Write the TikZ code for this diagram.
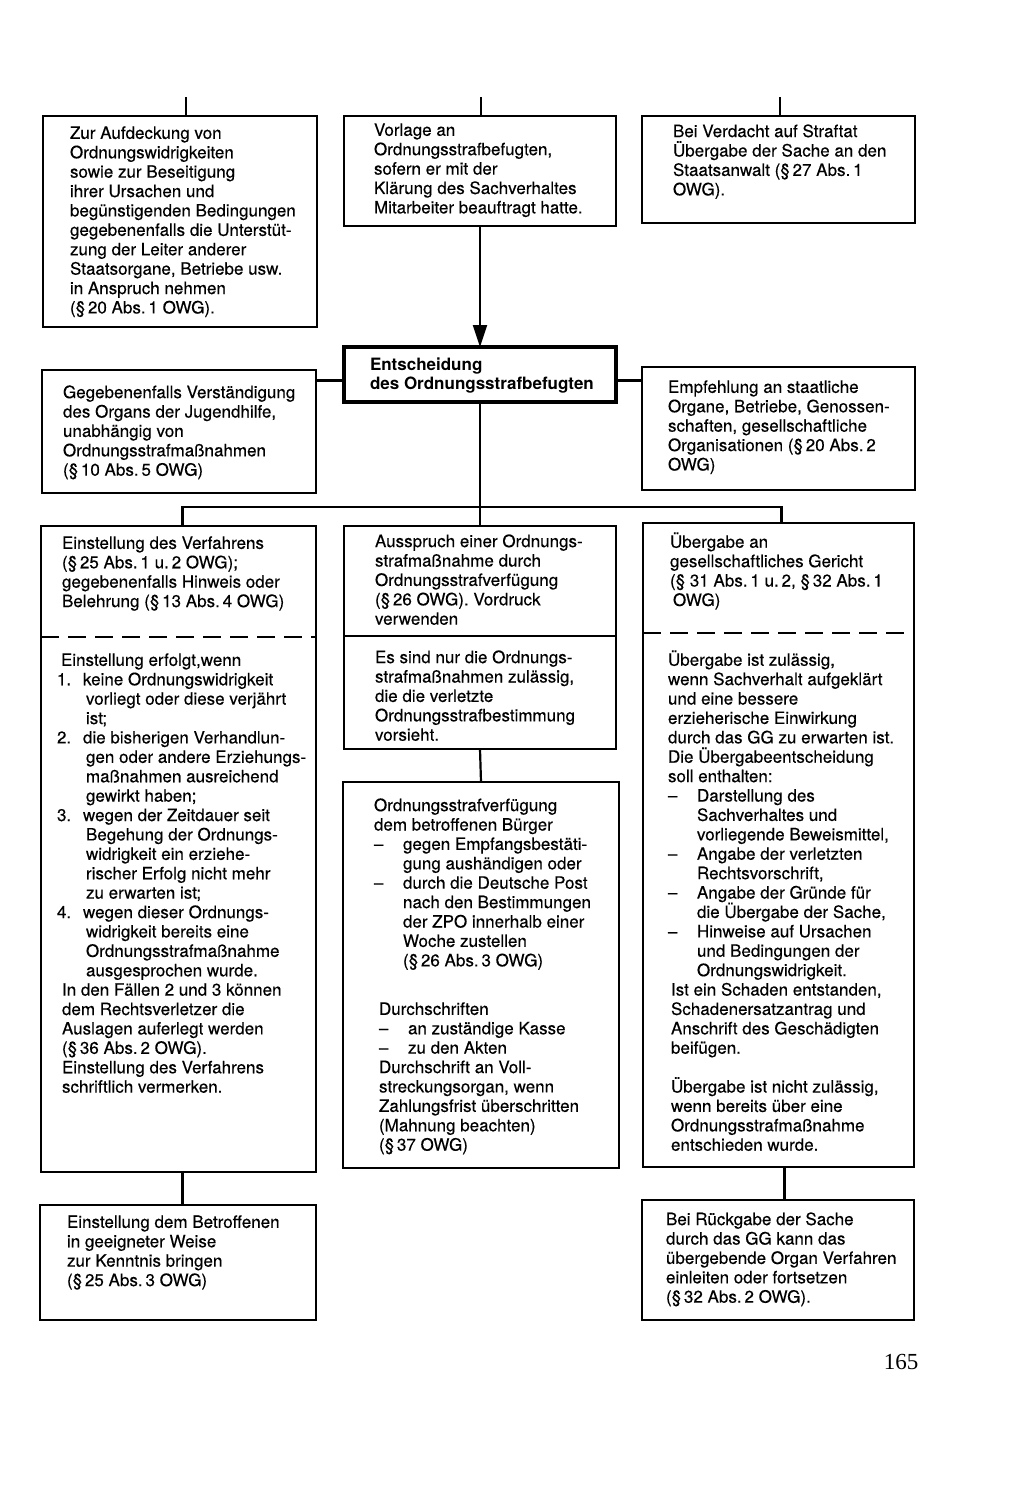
\documentclass[tikz,border=0pt]{standalone}
\usepackage{fontspec}
\setmainfont{TeX Gyre Heros}[UprightFeatures={FakeBold=0.35}]
\newfontfamily\seitenfont{Liberation Serif}
\usetikzlibrary{arrows.meta}

\newcommand{\strich}{\makebox[29pt][l]{--}}
\newcommand{\strichc}{\hspace*{29pt}}
\newcommand{\ziffer}[1]{\makebox[26pt][l]{#1}}
\newcommand{\zifferc}{\hspace*{29pt}}

\tikzset{
  rahmen/.style={draw, anchor=north west, inner sep=0pt, outer sep=0pt},
  satz/.style={anchor=north west, inner sep=0pt, outer sep=0pt, align=left,
    font=\fontsize{17}{19.4}\selectfont, execute at begin node=\strut},
  gestrichelt/.style={dash pattern=on 18pt off 9pt},
}

\begin{document}
\begin{tikzpicture}[x=1pt, y=-1pt, line width=2.2pt]
  \useasboundingbox (0,0) rectangle (1024,1486);

  %% obere Reihe
  \node[rahmen, minimum width=274pt, minimum height=211pt] (aufdeckung) at (43,116) {};
  \node[rahmen, minimum width=272pt, minimum height=110pt] (vorlage) at (344,116) {};
  \node[rahmen, minimum width=273pt, minimum height=107pt] (staatsanwalt) at (642,116) {};

  \node[satz] (aufdeckung-t) at ([shift={(27,10.4)}]aufdeckung.north west)
    {Zur Aufdeckung von\\
     Ordnungswidrigkeiten\\
     sowie zur Beseitigung\\
     ihrer Ursachen und\\
     begünstigenden Bedingungen\\
     gegebenenfalls die Unterstüt-\\
     zung der Leiter anderer\\
     Staatsorgane, Betriebe usw.\\
     in Anspruch nehmen\\
     (§\,20 Abs.\,1 OWG).};
  \node[satz] (vorlage-t) at ([shift={(30,7.4)}]vorlage.north west)
    {Vorlage an\\
     Ordnungsstrafbefugten,\\
     sofern er mit der\\
     Klärung des Sachverhaltes\\
     Mitarbeiter beauftragt hatte.};
  \node[satz] (staatsanwalt-t) at ([shift={(31,8.4)}]staatsanwalt.north west)
    {Bei Verdacht auf Straftat\\
     Übergabe der Sache an den\\
     Staatsanwalt (§\,27 Abs.\,1\\
     OWG).};

  %% Entscheidung
  \node[rahmen, line width=3.8pt, minimum width=272pt, minimum height=55pt] (entscheidung) at (344,347) {};
  \node[satz, font=\fontsize{17}{19.4}\selectfont\bfseries] (entscheidung-t) at ([shift={(26,10.4)}]entscheidung.north west)
    {Entscheidung\\
     des Ordnungsstrafbefugten};

  \node[rahmen, minimum width=274pt, minimum height=123pt] (jugendhilfe) at (42,370) {};
  \node[rahmen, minimum width=273pt, minimum height=123pt] (empfehlung) at (642,367) {};

  \node[satz] (jugendhilfe-t) at ([shift={(21,15.4)}]jugendhilfe.north west)
    {Gegebenenfalls Verständigung\\
     des Organs der Jugendhilfe,\\
     unabhängig von\\
     Ordnungsstrafmaßnahmen\\
     (§\,10 Abs.\,5 OWG)};
  \node[satz] (empfehlung-t) at ([shift={(26,13.4)}]empfehlung.north west)
    {Empfehlung an staatliche\\
     Organe, Betriebe, Genossen-\\
     schaften, gesellschaftliche\\
     Organisationen (§\,20 Abs.\,2\\
     OWG)};

  %% mittlere Reihe
  \node[rahmen, minimum width=275pt, minimum height=646pt] (einstellung) at (41,526) {};
  \node[rahmen, minimum width=272pt, minimum height=110pt] (ausspruch) at (344,526) {};
  \node[rahmen, minimum width=272pt, minimum height=113pt] (zulaessig) at (344,636) {};
  \node[rahmen, minimum width=271pt, minimum height=644pt] (uebergabe) at (643,523) {};
  \node[rahmen, minimum width=276pt, minimum height=386pt] (verfuegung) at (343,782) {};

  \draw[gestrichelt] ([yshift=-111pt]einstellung.north west) -- ([yshift=-111pt]einstellung.north east);
  \draw[gestrichelt] ([yshift=-110pt]uebergabe.north west) -- ([yshift=-110pt]uebergabe.north east);

  \node[satz] (einstellung-t) at ([shift={(21,10.4)}]einstellung.north west)
    {Einstellung des Verfahrens\\
     (§\,25 Abs.\,1 u.\,2 OWG);\\
     gegebenenfalls Hinweis oder\\
     Belehrung (§\,13 Abs.\,4 OWG)};
  \node[satz] (gruende-t) at ([shift={(16,127.4)}]einstellung.north west)
    {\hspace*{4pt}Einstellung erfolgt,wenn\\
     \ziffer{1.}keine Ordnungswidrigkeit\\
     \zifferc vorliegt oder diese verjährt\\
     \zifferc ist;\\
     \ziffer{2.}die bisherigen Verhandlun-\\
     \zifferc gen oder andere Erziehungs-\\
     \zifferc maßnahmen ausreichend\\
     \zifferc gewirkt haben;\\
     \ziffer{3.}wegen der Zeitdauer seit\\
     \zifferc Begehung der Ordnungs-\\
     \zifferc widrigkeit ein erziehe-\\
     \zifferc rischer Erfolg nicht mehr\\
     \zifferc zu erwarten ist;\\
     \ziffer{4.}wegen dieser Ordnungs-\\
     \zifferc widrigkeit bereits eine\\
     \zifferc Ordnungsstrafmaßnahme\\
     \zifferc ausgesprochen wurde.\\
     \hspace*{5pt}In den Fällen 2 und 3 können\\
     \hspace*{5pt}dem Rechtsverletzer die\\
     \hspace*{5pt}Auslagen auferlegt werden\\
     \hspace*{5pt}(§\,36 Abs.\,2 OWG).\\
     \hspace*{5pt}Einstellung des Verfahrens\\
     \hspace*{5pt}schriftlich vermerken.};

  \node[satz] (ausspruch-t) at ([shift={(31,8.4)}]ausspruch.north west)
    {Ausspruch einer Ordnungs-\\
     strafmaßnahme durch\\
     Ordnungsstrafverfügung\\
     (§\,26 OWG). Vordruck\\
     verwenden};
  \node[satz] (zulaessig-t) at ([shift={(31,14.4)}]zulaessig.north west)
    {Es sind nur die Ordnungs-\\
     strafmaßnahmen zulässig,\\
     die die verletzte\\
     Ordnungsstrafbestimmung\\
     vorsieht.};

  \node[satz] (verfuegung-t) at ([shift={(31,16.4)}]verfuegung.north west)
    {Ordnungsstrafverfügung\\
     dem betroffenen Bürger\\
     \strich gegen Empfangsbestäti-\\
     \strichc gung aushändigen oder\\
     \strich durch die Deutsche Post\\
     \strichc nach den Bestimmungen\\
     \strichc der ZPO innerhalb einer\\
     \strichc Woche zustellen\\
     \strichc (§\,26 Abs.\,3 OWG)};
  \node[satz] (durchschrift-t) at ([shift={(36,220.4)}]verfuegung.north west)
    {Durchschriften\\
     \strich an zuständige Kasse\\
     \strich zu den Akten\\
     Durchschrift an Voll-\\
     streckungsorgan, wenn\\
     Zahlungsfrist überschritten\\
     (Mahnung beachten)\\
     (§\,37 OWG)};

  \node[satz] (uebergabe-t) at ([shift={(27,9.4)}]uebergabe.north west)
    {Übergabe an\\
     gesellschaftliches Gericht\\
     (§ 31 Abs.\,1 u.\,2, §\,32 Abs.\,1\\
     \hspace*{3pt}OWG)};
  \node[satz] (bedingung-t) at ([shift={(25,127.4)}]uebergabe.north west)
    {Übergabe ist zulässig,\\
     wenn Sachverhalt aufgeklärt\\
     und eine bessere\\
     erzieherische Einwirkung\\
     durch das GG zu erwarten ist.\\
     Die Übergabeentscheidung\\
     soll enthalten:\\
     \strich Darstellung des\\
     \strichc Sachverhaltes und\\
     \strichc vorliegende Beweismittel,\\
     \strich Angabe der verletzten\\
     \strichc Rechtsvorschrift,\\
     \strich Angabe der Gründe für\\
     \strichc die Übergabe der Sache,\\
     \strich Hinweise auf Ursachen\\
     \strichc und Bedingungen der\\
     \strichc Ordnungswidrigkeit.\\
     \hspace*{3pt}Ist ein Schaden entstanden,\\
     \hspace*{3pt}Schadenersatzantrag und\\
     \hspace*{3pt}Anschrift des Geschädigten\\
     \hspace*{3pt}beifügen.\\[19.4pt]
     \hspace*{3pt}Übergabe ist nicht zulässig,\\
     \hspace*{3pt}wenn bereits über eine\\
     \hspace*{3pt}Ordnungsstrafmaßnahme\\
     \hspace*{3pt}entschieden wurde.};

  %% untere Reihe
  \node[rahmen, minimum width=276pt, minimum height=115pt] (mitteilung) at (40,1205) {};
  \node[rahmen, minimum width=272pt, minimum height=120pt] (rueckgabe) at (642,1200) {};

  \node[satz] (mitteilung-t) at ([shift={(27,10.4)}]mitteilung.north west)
    {Einstellung dem Betroffenen\\
     in geeigneter Weise\\
     zur Kenntnis bringen\\
     (§\,25 Abs.\,3 OWG)};
  \node[satz] (rueckgabe-t) at ([shift={(24,12.4)}]rueckgabe.north west)
    {Bei Rückgabe der Sache\\
     durch das GG kann das\\
     übergebende Organ Verfahren\\
     einleiten oder fortsetzen\\
     (§\,32 Abs.\,2 OWG).};

  %% Verbindungen
  \coordinate (von-links) at (186,97);
  \coordinate (von-mitte) at (481,97);
  \coordinate (von-rechts) at (780,97);
  \draw (von-links) -- (von-links |- aufdeckung.north);
  \draw (von-mitte) -- (von-mitte |- vorlage.north);
  \draw (von-rechts) -- (von-rechts |- staatsanwalt.north);

  \draw[-{Triangle[width=14pt,length=22pt]}] (vorlage.south) -- (entscheidung.north);

  \coordinate (ein-links) at ([yshift=-6pt]entscheidung.west);
  \coordinate (ein-rechts) at ([yshift=-6pt]entscheidung.east);
  \draw (ein-links) -- (ein-links -| jugendhilfe.east);
  \draw (ein-rechts) -- (ein-rechts -| empfehlung.west);

  \coordinate (verteiler) at (481,507);
  \coordinate (ab-links) at ([xshift=4pt]einstellung.north);
  \coordinate (ab-rechts) at ([xshift=3pt]uebergabe.north);
  \draw (entscheidung.south) -- (ausspruch.north);
  \draw (ab-links) |- (verteiler) -| (ab-rechts);

  \draw (zulaessig.south) -- (verfuegung.north);
  \draw ([xshift=4pt]einstellung.south) -- ([xshift=4pt]einstellung.south |- mitteilung.north);
  \draw ([xshift=6pt]uebergabe.south) -- ([xshift=6pt]uebergabe.south |- rueckgabe.north);

  %% Seitenzahl
  \node[font=\seitenfont\fontsize{23}{26}\selectfont] (seite) at (901,1362) {165};
\end{tikzpicture}
\end{document}
